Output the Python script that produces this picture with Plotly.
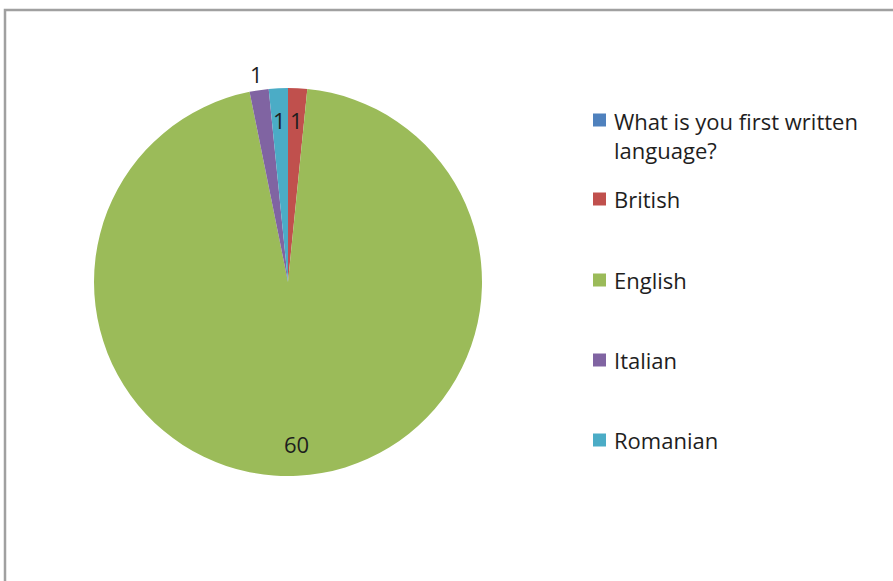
import math
import plotly.graph_objects as go

# Survey answers: first written language
categories = ["What is you first written language?", "British", "English", "Italian", "Romanian"]
legend_text = ["What is you first written<br>language?", "British", "English", "Italian", "Romanian"]
counts = [0, 1, 60, 1, 1]
colors = ["#4F81BD", "#C0504D", "#9BBB59", "#8064A2", "#4BACC6"]
# where each value label sits: inside the slice or just outside the rim
label_place = ["none", "in", "in", "out", "in"]

W, H = 893, 581
CX, CY, R = 288, 282, 194          # pie centre and radius in pixels
FONT = "Open Sans, Calibri, Carlito, sans-serif"
FONT_SIZE = 22
TEXT_COLOR = "#1e1e1e"

fig = go.Figure(go.Pie(
    labels=categories,
    values=counts,
    sort=False,
    direction="clockwise",
    rotation=0,
    marker=dict(colors=colors, line=dict(width=0)),
    textinfo="none",
    hoverinfo="label+value",
    showlegend=False,
    domain=dict(x=[(CX - R) / W, (CX + R) / W],
                y=[1 - (CY + R) / H, 1 - (CY - R) / H]),
))

# value labels placed at each slice's mid-angle
total = sum(counts)
cum = 0.0
annotations = []
for v, place in zip(counts, label_place):
    mid = (cum + v / 2) / total * 2 * math.pi
    cum += v
    if place == "none":
        continue
    rr = R * (0.835 if place == "in" else 1.085)
    px = CX + rr * math.sin(mid)
    py = CY - rr * math.cos(mid)
    annotations.append(dict(
        x=px / W, y=1 - py / H, xref="paper", yref="paper",
        text=str(v), showarrow=False, xanchor="center", yanchor="middle",
        font=dict(family=FONT, size=FONT_SIZE, color=TEXT_COLOR),
    ))

# legend: colour squares with labels
legend_y = [135, 199, 280, 360, 440]
square_y = [120, 199, 280, 360, 440]
shapes = []
for txt, c, ly, sy in zip(legend_text, colors, legend_y, square_y):
    annotations.append(dict(
        x=612 / W, y=1 - ly / H, xref="paper", yref="paper",
        text=txt, showarrow=False, xanchor="left", yanchor="middle", align="left",
        font=dict(family=FONT, size=FONT_SIZE, color=TEXT_COLOR),
    ))
    shapes.append(dict(
        type="rect", xref="paper", yref="paper",
        x0=593 / W, x1=606 / W, y0=1 - (sy + 6.5) / H, y1=1 - (sy - 6.5) / H,
        fillcolor=c, line=dict(width=0),
    ))

# chart area frame
shapes.append(dict(
    type="rect", xref="paper", yref="paper",
    x0=5 / W, x1=1.02, y0=-0.02, y1=1 - 10 / H,
    line=dict(color="#A0A0A0", width=2.5), fillcolor="rgba(0,0,0,0)", layer="above",
))

fig.update_layout(
    width=W, height=H,
    margin=dict(l=0, r=0, t=0, b=0),
    paper_bgcolor="white",
    plot_bgcolor="white",
    annotations=annotations,
    shapes=shapes,
)

fig.write_html("out.html")
